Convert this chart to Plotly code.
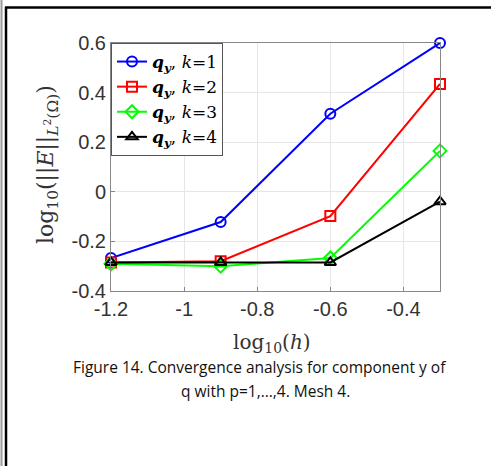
import plotly.graph_objects as go

log_h = [-1.2, -0.9, -0.6, -0.3]
err_k1 = [-0.267, -0.122, 0.315, 0.60]
err_k2 = [-0.285, -0.280, -0.098, 0.435]
err_k3 = [-0.290, -0.300, -0.267, 0.165]
err_k4 = [-0.285, -0.285, -0.285, -0.040]

x_ticks = [-1.2, -1.0, -0.8, -0.6, -0.4]
x_tick_labels = ["-1.2", "-1", "-0.8", "-0.6", "-0.4"]
y_ticks = [-0.4, -0.2, 0.0, 0.2, 0.4, 0.6]
y_tick_labels = ["-0.4", "-0.2", "0", "0.2", "0.4", "0.6"]

series = [
    ("k=1", err_k1, "#0000ff", "circle-open"),
    ("k=2", err_k2, "#ff0000", "square-open"),
    ("k=3", err_k3, "#00ff00", "diamond-open"),
    ("k=4", err_k4, "#000000", "triangle-up-open"),
]

W, H = 491, 466
L, R, T, B = 111, 440, 43, 291

fig = go.Figure()
for name, ys, col, sym in series:
    k = name.split("=")[1]
    fig.add_trace(go.Scatter(
        x=log_h, y=ys, mode="lines+markers", cliponaxis=False,
        name=f"<b><i>q</i><sub><i>y</i></sub></b>, <i>k</i>=" + k,
        line=dict(color=col, width=2),
        marker=dict(symbol=sym, size=10, color=col, line=dict(color=col, width=2)),
    ))

def px(x):
    return (x - L) / (R - L)

def py(y):
    return (B - y) / (B - T)

shapes = [
    dict(type="line", xref="paper", yref="paper", x0=px(1.5), x1=px(1.5), y0=py(0), y1=py(H),
         line=dict(color="#9a9a9a", width=2)),
    dict(type="line", xref="paper", yref="paper", x0=px(6), x1=px(6), y0=py(7), y1=py(H),
         line=dict(color="#000000", width=2.5)),
    dict(type="line", xref="paper", yref="paper", x0=px(5), x1=px(W), y0=py(7.5), y1=py(7.5),
         line=dict(color="#000000", width=2.5)),
]

annotations = [
    dict(text="log<sub>10</sub>(<i>h</i>)", xref="paper", yref="paper",
         x=px(272), y=py(343), showarrow=False, font=dict(family="DejaVu Serif", size=20, color="#333"),
         xanchor="center", yanchor="middle"),
    dict(text="log<sub>10</sub>(||<i>E</i>||<sub><i>L</i><sup>2</sup>(Ω)</sub>)", xref="paper", yref="paper",
         x=px(47), y=py(165), showarrow=False, textangle=-90,
         font=dict(family="DejaVu Serif", size=22, color="#333"),
         xanchor="center", yanchor="middle"),
    dict(text="Figure 14. Convergence analysis for component y of", xref="paper", yref="paper",
         x=px(259), y=py(367), showarrow=False, font=dict(family="Open Sans", size=15.5, color="#111"),
         xanchor="center", yanchor="middle"),
    dict(text="q with p=1,…,4. Mesh 4.", xref="paper", yref="paper",
         x=px(265), y=py(391), showarrow=False, font=dict(family="Open Sans", size=15.5, color="#111"),
         xanchor="center", yanchor="middle"),
]

fig.update_layout(
    width=W, height=H,
    margin=dict(l=L, r=W - R, t=T, b=H - B),
    paper_bgcolor="white", plot_bgcolor="white",
    showlegend=True,
    legend=dict(x=0, y=1, xanchor="left", yanchor="top",
                bgcolor="white", bordercolor="#555", borderwidth=1,
                font=dict(family="DejaVu Serif", size=17, color="#000"),
                tracegroupgap=0, itemwidth=30),
    shapes=shapes, annotations=annotations,
    font=dict(family="Liberation Sans", size=20, color="#333"),
)
fig.update_xaxes(range=[-1.2, -0.3], tickvals=x_ticks, ticktext=x_tick_labels,
                 showgrid=True, gridcolor="#e6e6e6", gridwidth=1,
                 showline=True, linecolor="#888", linewidth=1, mirror=True,
                 ticks="inside", ticklen=4, tickcolor="#888", zeroline=False,
                 tickfont=dict(family="Liberation Sans", size=20, color="#333"))
fig.update_yaxes(range=[-0.4, 0.6], tickvals=y_ticks, ticktext=y_tick_labels,
                 showgrid=True, gridcolor="#e6e6e6", gridwidth=1,
                 showline=True, linecolor="#888", linewidth=1, mirror=True,
                 ticks="inside", ticklen=4, tickcolor="#888", zeroline=False,
                 tickfont=dict(family="Liberation Sans", size=20, color="#333"))

fig.write_html("out.html", config={"displayModeBar": False},
               post_script="document.body.style.margin='0px';document.body.style.overflow='hidden';")
